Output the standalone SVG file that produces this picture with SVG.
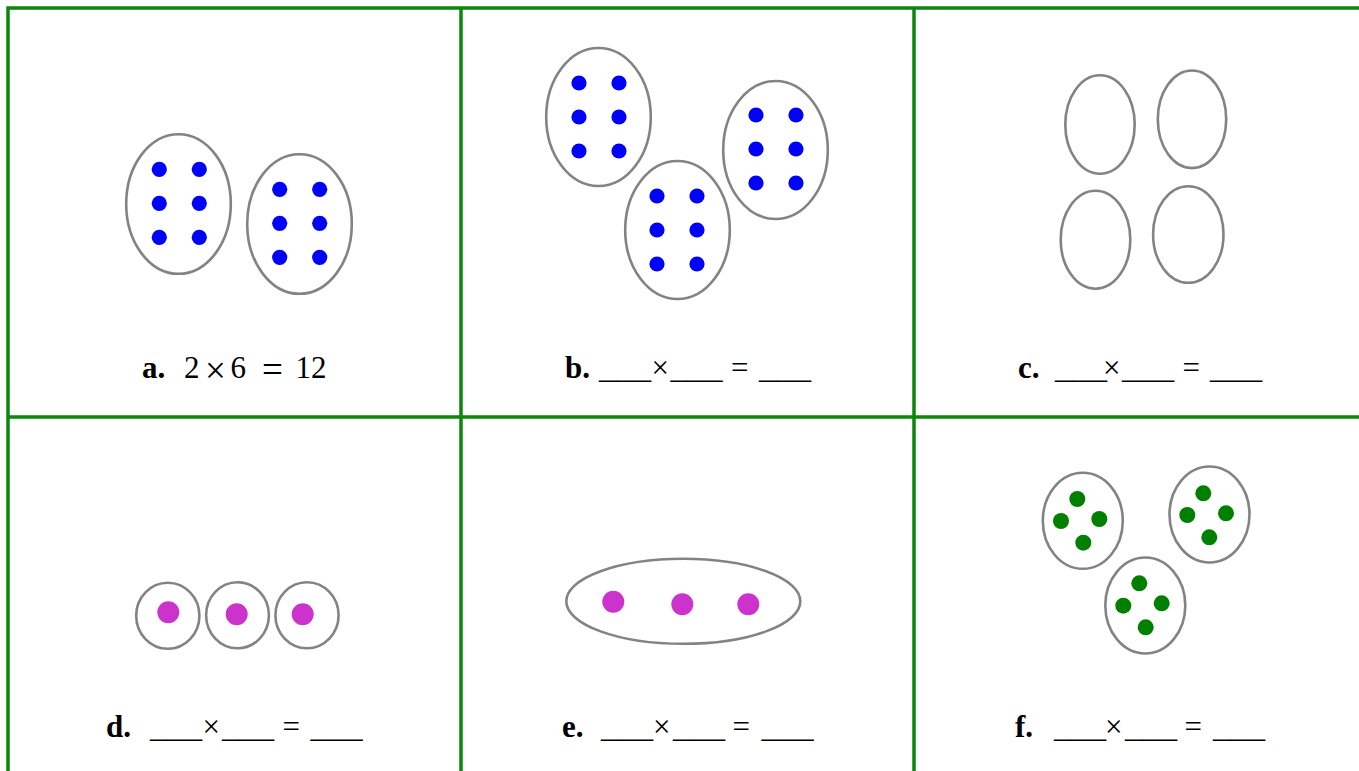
<svg xmlns="http://www.w3.org/2000/svg" width="1359" height="771" viewBox="0 0 1359 771">
<style>
.grid{fill:none;stroke:#0b870b;stroke-width:3.5}
.grp{fill:none;stroke:#838383;stroke-width:2.6}
.b{fill:#0000ff}
.m{fill:#cc33cc}
.g{fill:#008000}
.lbl{font-family:"Liberation Serif","Times New Roman",serif;font-size:31px;fill:#000}
.bold{font-weight:bold}
.big{font-size:37px}
</style>
<rect width="1359" height="771" fill="#ffffff"/>
<g id="grid">
<path class="grid" d="M8 800 V8 H1370 M461 8 V800 M914 8 V800 M8 417 H1370"/>
</g>
<g id="cell-a">
<ellipse class="grp" cx="178.5" cy="204" rx="52.3" ry="69.8"/>
<ellipse class="grp" cx="299.5" cy="224" rx="52.3" ry="69.8"/>
<circle class="b" cx="159.3" cy="169.3" r="7.6"/><circle class="b" cx="199.3" cy="169.3" r="7.6"/>
<circle class="b" cx="159.3" cy="203.3" r="7.6"/><circle class="b" cx="199.3" cy="203.3" r="7.6"/>
<circle class="b" cx="159.3" cy="237.3" r="7.6"/><circle class="b" cx="199.3" cy="237.3" r="7.6"/>
<circle class="b" cx="279.7" cy="189.3" r="7.6"/><circle class="b" cx="319.7" cy="189.3" r="7.6"/>
<circle class="b" cx="279.7" cy="223.3" r="7.6"/><circle class="b" cx="319.7" cy="223.3" r="7.6"/>
<circle class="b" cx="279.7" cy="257.3" r="7.6"/><circle class="b" cx="319.7" cy="257.3" r="7.6"/>
<text class="lbl" y="378"><tspan class="bold" x="142">a.</tspan><tspan x="184">2</tspan><tspan x="205" y="383" class="big">×</tspan><tspan x="230.5" y="378">6</tspan><tspan x="262" y="382" class="big">=</tspan><tspan x="295.5" y="378">12</tspan></text>
</g>
<g id="cell-b">
<ellipse class="grp" cx="598.5" cy="117" rx="52.3" ry="69"/>
<ellipse class="grp" cx="677.5" cy="230" rx="52.3" ry="69"/>
<ellipse class="grp" cx="775.5" cy="150" rx="52.3" ry="69"/>
<circle class="b" cx="579" cy="83" r="7.6"/><circle class="b" cx="619" cy="83" r="7.6"/>
<circle class="b" cx="579" cy="117" r="7.6"/><circle class="b" cx="619" cy="117" r="7.6"/>
<circle class="b" cx="579" cy="151" r="7.6"/><circle class="b" cx="619" cy="151" r="7.6"/>
<circle class="b" cx="657" cy="196" r="7.6"/><circle class="b" cx="697" cy="196" r="7.6"/>
<circle class="b" cx="657" cy="230" r="7.6"/><circle class="b" cx="697" cy="230" r="7.6"/>
<circle class="b" cx="657" cy="264" r="7.6"/><circle class="b" cx="697" cy="264" r="7.6"/>
<circle class="b" cx="756" cy="115" r="7.6"/><circle class="b" cx="796" cy="115" r="7.6"/>
<circle class="b" cx="756" cy="149" r="7.6"/><circle class="b" cx="796" cy="149" r="7.6"/>
<circle class="b" cx="756" cy="183" r="7.6"/><circle class="b" cx="796" cy="183" r="7.6"/>
<text class="lbl" y="378"><tspan class="bold" x="565">b.</tspan><tspan x="599" textLength="52" lengthAdjust="spacingAndGlyphs">___</tspan><tspan x="651.5">×</tspan><tspan x="670.5" textLength="52" lengthAdjust="spacingAndGlyphs">___</tspan><tspan x="731">=</tspan><tspan x="759" textLength="52" lengthAdjust="spacingAndGlyphs">___</tspan></text>
</g>
<g id="cell-c">
<ellipse class="grp" cx="1100" cy="124.5" rx="34.7" ry="49.2"/>
<ellipse class="grp" cx="1192" cy="119.3" rx="34.2" ry="48.8"/>
<ellipse class="grp" cx="1095.5" cy="239.7" rx="34.8" ry="49"/>
<ellipse class="grp" cx="1188.3" cy="234.5" rx="35.2" ry="48.3"/>
<text class="lbl" y="378"><tspan class="bold" x="1018">c.</tspan><tspan x="1055" textLength="52" lengthAdjust="spacingAndGlyphs">___</tspan><tspan x="1103">×</tspan><tspan x="1122" textLength="52" lengthAdjust="spacingAndGlyphs">___</tspan><tspan x="1182.5">=</tspan><tspan x="1210" textLength="52" lengthAdjust="spacingAndGlyphs">___</tspan></text>
</g>
<g id="cell-d">
<ellipse class="grp" cx="167.8" cy="615.8" rx="31.6" ry="33"/>
<ellipse class="grp" cx="237.5" cy="615.3" rx="31.4" ry="33"/>
<ellipse class="grp" cx="307" cy="615.3" rx="31.6" ry="33"/>
<circle class="m" cx="168.3" cy="612.3" r="11"/>
<circle class="m" cx="236.7" cy="614.3" r="11"/>
<circle class="m" cx="302.7" cy="614.3" r="11"/>
<text class="lbl" y="737"><tspan class="bold" x="106">d.</tspan><tspan x="150" textLength="52" lengthAdjust="spacingAndGlyphs">___</tspan><tspan x="202.5">×</tspan><tspan x="222" textLength="52" lengthAdjust="spacingAndGlyphs">___</tspan><tspan x="282.5">=</tspan><tspan x="310.5" textLength="52" lengthAdjust="spacingAndGlyphs">___</tspan></text>
</g>
<g id="cell-e">
<ellipse class="grp" cx="683.3" cy="601.3" rx="117" ry="42.5"/>
<circle class="m" cx="613.3" cy="601.7" r="11"/>
<circle class="m" cx="682.3" cy="604.3" r="11"/>
<circle class="m" cx="748.3" cy="604.3" r="11"/>
<text class="lbl" y="737"><tspan class="bold" x="562">e.</tspan><tspan x="601" textLength="52" lengthAdjust="spacingAndGlyphs">___</tspan><tspan x="653">×</tspan><tspan x="673" textLength="52" lengthAdjust="spacingAndGlyphs">___</tspan><tspan x="732.5">=</tspan><tspan x="761.5" textLength="52" lengthAdjust="spacingAndGlyphs">___</tspan></text>
</g>
<g id="cell-f">
<ellipse class="grp" cx="1082.8" cy="520.8" rx="40" ry="48"/>
<ellipse class="grp" cx="1209.5" cy="514.5" rx="40" ry="48"/>
<ellipse class="grp" cx="1145.3" cy="605.5" rx="40" ry="48"/>
<circle class="g" cx="1077.3" cy="499" r="8"/><circle class="g" cx="1061" cy="521" r="8"/>
<circle class="g" cx="1099.3" cy="519" r="8"/><circle class="g" cx="1083.3" cy="542.7" r="8"/>
<circle class="g" cx="1203.3" cy="493.3" r="8"/><circle class="g" cx="1187.3" cy="515" r="8"/>
<circle class="g" cx="1226" cy="513.3" r="8"/><circle class="g" cx="1209.3" cy="537.3" r="8"/>
<circle class="g" cx="1139.3" cy="583.3" r="8"/><circle class="g" cx="1123.3" cy="605.7" r="8"/>
<circle class="g" cx="1161.7" cy="603.3" r="8"/><circle class="g" cx="1145.7" cy="627.3" r="8"/>
<text class="lbl" y="737"><tspan class="bold" x="1015">f.</tspan><tspan x="1054" textLength="52" lengthAdjust="spacingAndGlyphs">___</tspan><tspan x="1105">×</tspan><tspan x="1125" textLength="52" lengthAdjust="spacingAndGlyphs">___</tspan><tspan x="1184.5">=</tspan><tspan x="1213" textLength="52" lengthAdjust="spacingAndGlyphs">___</tspan></text>
</g>
</svg>
